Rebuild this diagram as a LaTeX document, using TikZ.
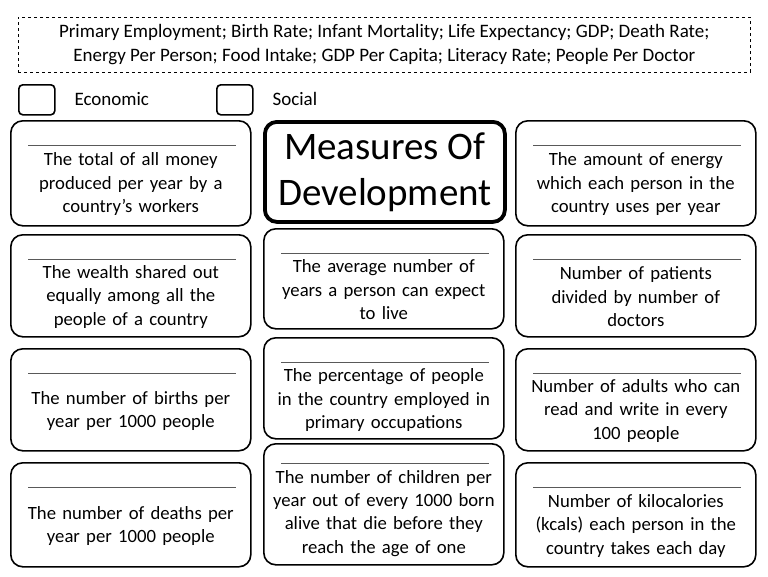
\documentclass[tikz,border=0pt]{standalone}
\usepackage{fontspec}
\setmainfont{Carlito}
\begin{document}
\begin{tikzpicture}[x=1pt,y=-1pt,
  card/.style={draw,line width=1.6pt,rounded corners=12pt,minimum width=240pt,anchor=north west,inner sep=0pt},
  txt/.style={align=center,font=\fontsize{18.7}{23.3}\selectfont,text width=236pt},
  sq/.style={draw,line width=1.6pt,rounded corners=4pt,minimum width=36pt,minimum height=30pt,anchor=north west}]
\useasboundingbox (0,0) rectangle (768,576);
\node[draw,dashed,minimum width=732pt,minimum height=55pt,anchor=north west,align=center,font=\fontsize{19}{24}\selectfont] (top) at (18,17)
 {Primary Employment; Birth Rate; Infant Mortality; Life Expectancy; GDP; Death Rate;\\ Energy Per Person; Food Intake; GDP Per Capita; Literacy Rate; People Per Doctor};
\node[sq] (s1) at (18,84) {};
\node[anchor=west,font=\fontsize{19}{20}\selectfont] (l1) at (71,99) {Economic};
\node[sq] (s2) at (216,84) {};
\node[anchor=west,font=\fontsize{19}{20}\selectfont] (l2) at (269,99) {Social};
\newcommand\mycard[7]{%
  \node[card,minimum height=#4pt] (#1) at (#2,#3) {};
  \draw[line width=1pt,black!65] ([xshift=18pt,yshift=-#6pt]#1.north west) -- ([xshift=-16pt,yshift=-#6pt]#1.north east);
  \node[txt] (#1t) at ([yshift=-#5pt]#1.center) {#7};}
\mycard{a1}{10}{120}{105}{11}{25}{The total of all money\\produced per year by a\\country’s workers}
\mycard{a2}{10}{234}{102}{11}{25}{The wealth shared out\\equally among all the\\people of a country}
\mycard{a3}{10}{348}{102}{11}{25}{The number of births per\\year per 1000 people}
\mycard{a4}{10}{462}{104}{11}{25}{The number of deaths per\\year per 1000 people}
\node[card,minimum height=100pt,line width=3.8pt] (t) at (263,120) {};
\node[align=center,font=\fontsize{39}{46}\selectfont] (tt) at (t.center) {Measures Of\\Development};
\mycard{b2}{263}{228}{100}{11}{25}{The average number of\\years a person can expect\\to live}
\mycard{b3}{263}{337}{101}{12}{25}{The percentage of people\\in the country employed in\\primary occupations}
\mycard{b4}{263}{443}{121}{9}{20}{The number of children per\\year out of every 1000 born\\alive that die before they\\reach the age of one}
\mycard{c1}{515}{120}{105}{11}{25}{The amount of energy\\which each person in the\\country uses per year}
\mycard{c2}{515}{234}{102}{11}{25}{Number of patients\\divided by number of\\doctors}
\mycard{c3}{515}{348}{102}{11}{25}{Number of adults who can\\read and write in every\\100 people}
\mycard{c4}{515}{462}{104}{11}{25}{Number of kilocalories\\(kcals) each person in the\\country takes each day}
\end{tikzpicture}
\end{document}
